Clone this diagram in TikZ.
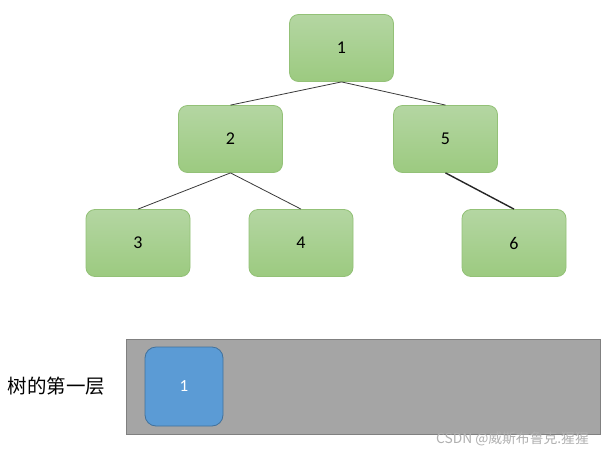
\documentclass[tikz,border=0pt]{standalone}
\usepackage{fontspec}
\setmainfont{Carlito}
\newfontfamily\cjk{Noto Sans CJK SC}
\definecolor{gtop}{HTML}{B4D6A2}
\definecolor{gbot}{HTML}{9CCA80}
\definecolor{gline}{HTML}{93C177}
\definecolor{bfill}{HTML}{5B9BD5}
\definecolor{bline}{HTML}{41719C}
\definecolor{gfill}{HTML}{A5A5A5}
\definecolor{gedge}{HTML}{808080}
\definecolor{edgec}{HTML}{3A3A3A}
\definecolor{wm}{HTML}{B0B0B0}
\begin{document}
\begin{tikzpicture}[x=1pt,y=-1pt,
  treenode/.style={draw=gline, line width=0.8pt, rounded corners=9pt, top color=gtop, bottom color=gbot,
    minimum width=104pt, minimum height=67pt, inner sep=0pt, font=\fontsize{18}{21}\selectfont, text=black},
  link/.style={draw=edgec, line width=0.8pt},
  thicklink/.style={draw=black!85, line width=1.4pt},
  queuenode/.style={draw=bline, line width=0.8pt, fill=bfill, rounded corners=11pt,
    minimum width=78pt, minimum height=79pt, inner sep=0pt, text=white, font=\fontsize{17}{20}\selectfont}]
\useasboundingbox (0,0) rectangle (604,455);
\fill[white] (0,0) rectangle (604,455);
\node[treenode] (n1) at (341.5,48) {1};
\node[treenode] (n2) at (230.5,139) {2};
\node[treenode] (n5) at (445.5,139) {5};
\node[treenode] (n3) at (138,243) {3};
\node[treenode] (n4) at (301,243) {4};
\node[treenode] (n6) at (514,243) {6};
\draw[link] (n1.south) -- (n2.north);
\draw[link] (n1.south) -- (n5.north);
\draw[link] (n2.south) -- (n3.north);
\draw[link] (n2.south) -- (n4.north);
\draw[thicklink] (n5.south) -- (n6.north);
\node[draw=gedge, line width=0.8pt, fill=gfill, minimum width=474pt, minimum height=95pt, inner sep=0pt] (queue) at (363,386.5) {};
\node[queuenode] (q1) at (184,386.5) {1};
\node[font=\cjk\fontsize{19.5}{23}\selectfont, text=black] (lbl) at (56.5,386) {树的第一层};
\node[font=\cjk\fontsize{13.8}{16}\selectfont, text=wm, anchor=east, inner sep=0pt] (wmark) at (589,439) {CSDN @威斯布鲁克.猩猩};
\end{tikzpicture}
\end{document}
